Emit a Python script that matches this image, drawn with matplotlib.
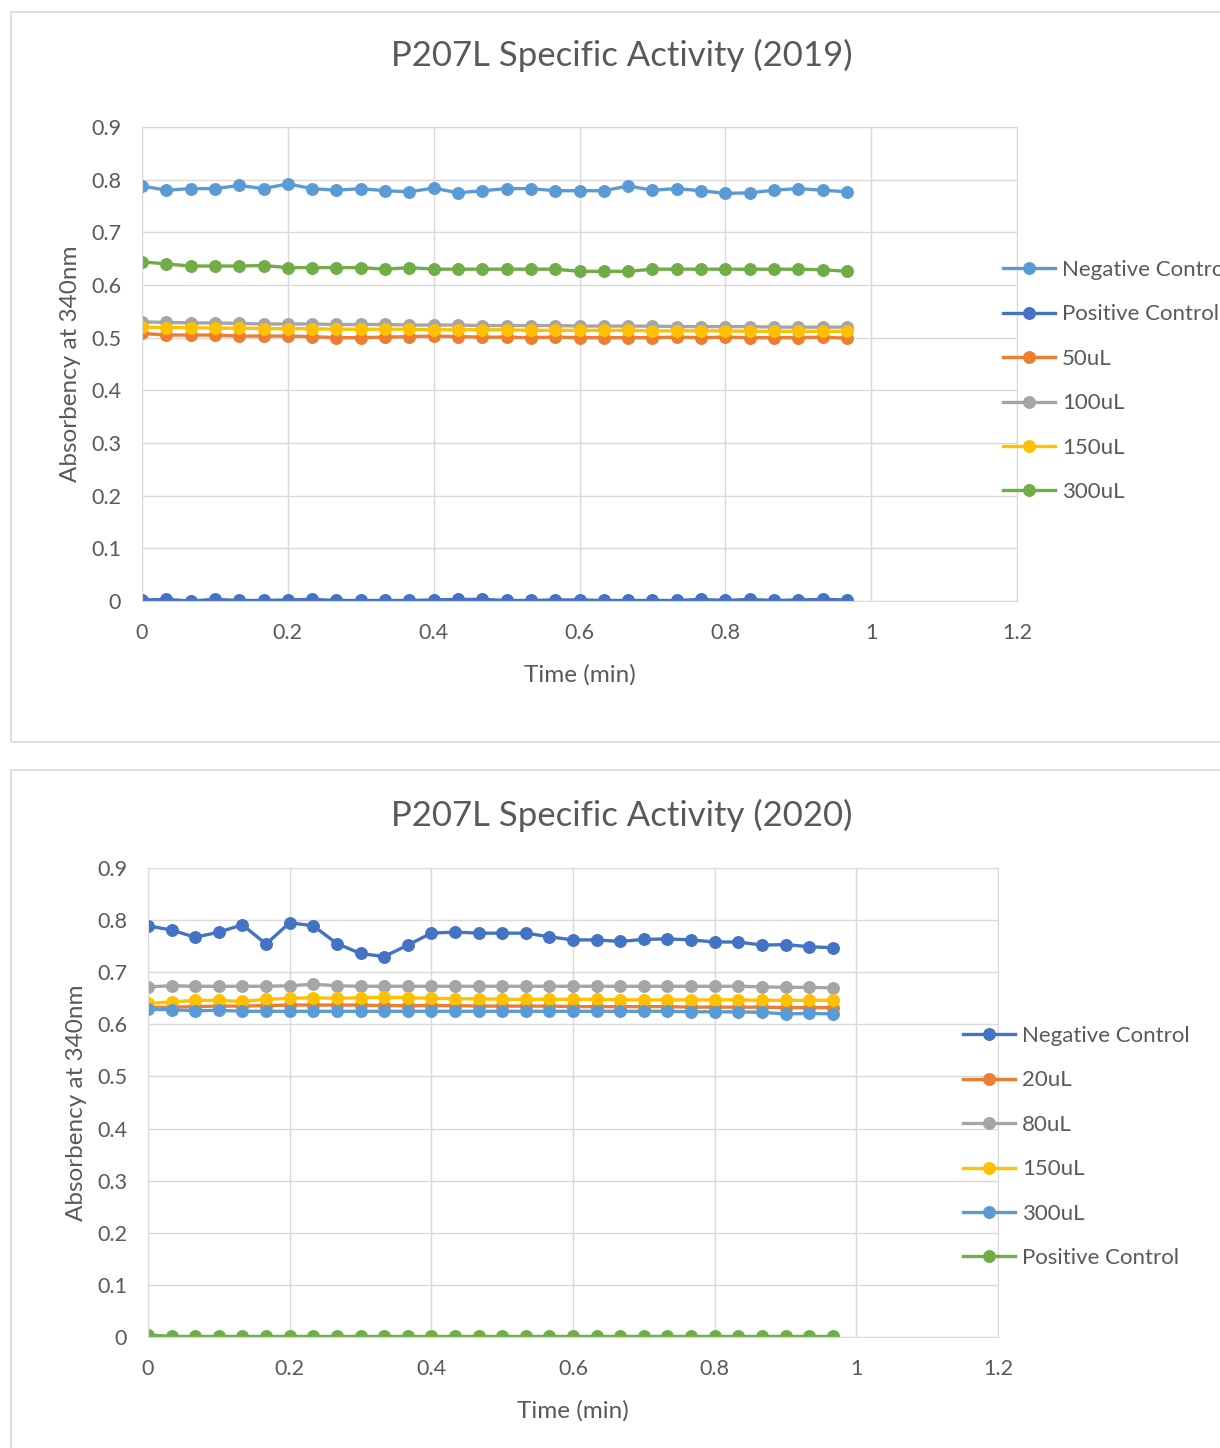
import numpy as np
import matplotlib
matplotlib.use("Agg")
import matplotlib.pyplot as plt
from matplotlib.patches import Rectangle

# time points: 30 readings, 2 s apart (in minutes)
time_min = np.arange(30) / 30

# --- 2019 run ---
neg_2019 = [0.788, 0.780, 0.783, 0.783, 0.789, 0.783, 0.792, 0.783, 0.780, 0.783,
            0.779, 0.777, 0.784, 0.775, 0.779, 0.783, 0.783, 0.779, 0.779, 0.779,
            0.788, 0.780, 0.783, 0.779, 0.774, 0.775, 0.780, 0.783, 0.780, 0.777]
pos_2019 = [0.002, 0.003, 0.000, 0.003, 0.001, 0.001, 0.002, 0.003, 0.001, 0.001,
            0.001, 0.001, 0.002, 0.003, 0.003, 0.001, 0.001, 0.002, 0.002, 0.001,
            0.001, 0.001, 0.001, 0.003, 0.001, 0.003, 0.001, 0.002, 0.003, 0.002]
ul50_2019 = [0.508, 0.505, 0.505, 0.505, 0.503, 0.503, 0.503, 0.502, 0.500, 0.500,
             0.501, 0.502, 0.503, 0.502, 0.501, 0.501, 0.500, 0.501, 0.500, 0.500,
             0.500, 0.500, 0.501, 0.500, 0.501, 0.500, 0.500, 0.500, 0.501, 0.499]
ul100_2019 = [0.530, 0.529, 0.528, 0.528, 0.527, 0.526, 0.526, 0.526, 0.525, 0.525,
              0.525, 0.524, 0.524, 0.524, 0.523, 0.523, 0.523, 0.523, 0.522, 0.522,
              0.522, 0.522, 0.521, 0.521, 0.521, 0.521, 0.520, 0.520, 0.520, 0.520]
ul150_2019 = [0.520, 0.519, 0.519, 0.518, 0.518, 0.517, 0.517, 0.517, 0.516, 0.516,
              0.516, 0.516, 0.515, 0.515, 0.515, 0.515, 0.514, 0.514, 0.514, 0.514,
              0.514, 0.513, 0.513, 0.513, 0.513, 0.512, 0.512, 0.512, 0.512, 0.512]
ul300_2019 = [0.644, 0.640, 0.636, 0.636, 0.636, 0.637, 0.633, 0.633, 0.633, 0.633,
              0.630, 0.633, 0.630, 0.630, 0.630, 0.630, 0.630, 0.630, 0.626, 0.626,
              0.626, 0.630, 0.630, 0.630, 0.630, 0.630, 0.630, 0.630, 0.629, 0.626]

# --- 2020 run ---
neg_2020 = [0.789, 0.781, 0.767, 0.777, 0.791, 0.754, 0.795, 0.789, 0.755, 0.736,
            0.730, 0.752, 0.775, 0.777, 0.775, 0.775, 0.775, 0.768, 0.762, 0.762,
            0.759, 0.763, 0.764, 0.762, 0.758, 0.758, 0.752, 0.753, 0.749, 0.747]
ul20_2020 = [0.632, 0.633, 0.634, 0.635, 0.635, 0.636, 0.637, 0.637, 0.637, 0.637,
             0.636, 0.636, 0.636, 0.636, 0.635, 0.635, 0.635, 0.635, 0.634, 0.634,
             0.634, 0.634, 0.634, 0.633, 0.633, 0.633, 0.633, 0.632, 0.632, 0.632]
ul80_2020 = [0.672, 0.674, 0.673, 0.673, 0.673, 0.673, 0.674, 0.677, 0.674, 0.673,
             0.673, 0.673, 0.673, 0.673, 0.673, 0.673, 0.673, 0.673, 0.673, 0.673,
             0.673, 0.673, 0.673, 0.673, 0.673, 0.673, 0.672, 0.671, 0.671, 0.670]
ul150_2020 = [0.640, 0.643, 0.646, 0.646, 0.644, 0.648, 0.650, 0.651, 0.650, 0.651,
              0.652, 0.651, 0.650, 0.649, 0.649, 0.648, 0.648, 0.648, 0.648, 0.648,
              0.647, 0.647, 0.647, 0.647, 0.647, 0.647, 0.646, 0.646, 0.646, 0.646]
ul300_2020 = [0.629, 0.628, 0.626, 0.627, 0.625, 0.625, 0.625, 0.625, 0.625, 0.625,
              0.625, 0.625, 0.625, 0.625, 0.625, 0.625, 0.625, 0.625, 0.625, 0.625,
              0.625, 0.625, 0.625, 0.624, 0.624, 0.624, 0.623, 0.620, 0.621, 0.620]
pos_2020 = [0.004, 0.001, 0.001, 0.001, 0.001, 0.001, 0.001, 0.001, 0.001, 0.001,
            0.001, 0.001, 0.001, 0.001, 0.001, 0.001, 0.001, 0.001, 0.001, 0.001,
            0.001, 0.001, 0.001, 0.001, 0.001, 0.001, 0.001, 0.001, 0.001, 0.001]

labels_2019 = ["Negative Control", "Positive Control", "50uL", "100uL", "150uL", "300uL"]
labels_2020 = ["Negative Control", "20uL", "80uL", "150uL", "300uL", "Positive Control"]

# office palette
BLUE = "#4472C4"
ORANGE = "#ED7D31"
GRAY = "#A5A5A5"
GOLD = "#FFC000"
LBLUE = "#5B9BD5"
GREEN = "#70AD47"
TXT = "#595959"
GRID = "#D9D9D9"

plt.rcParams['font.family'] = ['Lato', 'DejaVu Sans']

W, H = 1220, 1448
fig = plt.figure(figsize=(W / 100, H / 100), dpi=100)

# chart card outlines
fig.patches.append(Rectangle((11 / W, 1 - 742 / H), 1.2, (742 - 12) / H,
                             transform=fig.transFigure, fill=False, ec=GRID, lw=1.2))
fig.patches.append(Rectangle((11 / W, -0.2), 1.2, 0.2 + (H - 770) / H,
                             transform=fig.transFigure, fill=False, ec=GRID, lw=1.2))


def draw_chart(ax, series, labels, colors, title, title_y, legend_anchor):
    for y, lab, c in zip(series, labels, colors):
        ax.plot(time_min, y, color=c, lw=2.4, marker='o', ms=8.3, label=lab)
    ax.set_xlim(0, 1.2)
    ax.set_ylim(0, 0.9)
    ax.set_xticks(np.arange(0, 1.21, 0.2))
    ax.set_xticklabels(["0", "0.2", "0.4", "0.6", "0.8", "1", "1.2"])
    ax.set_yticks(np.arange(0, 0.91, 0.1))
    ax.set_yticklabels(["0"] + ["%.1f" % v for v in np.arange(0.1, 0.91, 0.1)])
    ax.grid(True, color=GRID, lw=1)
    ax.set_axisbelow(True)
    for s in ax.spines.values():
        s.set_color(GRID)
    ax.tick_params(length=0, labelsize=15.5, labelcolor=TXT)
    ax.tick_params(axis='y', pad=15)
    ax.tick_params(axis='x', pad=16)
    ax.set_xlabel("Time (min)", fontsize=17.5, color=TXT, labelpad=15)
    ax.set_ylabel("Absorbency at 340nm", fontsize=17.5, color=TXT, labelpad=7)
    fig.text(622 / W, 1 - title_y / H, title, fontsize=25, color=TXT,
             ha='center', va='center')
    ax.legend(loc='upper left', bbox_to_anchor=legend_anchor, bbox_transform=fig.transFigure,
              frameon=False, fontsize=16, labelcolor=TXT, handlelength=2.35,
              handletextpad=0.3, labelspacing=1.1, borderaxespad=0, borderpad=0)


ax1 = fig.add_axes([142 / W, 1 - 601 / H, (1017 - 142) / W, (601 - 127) / H])
draw_chart(ax1, [neg_2019, pos_2019, ul50_2019, ul100_2019, ul150_2019, ul300_2019],
           labels_2019, [LBLUE, BLUE, ORANGE, GRAY, GOLD, GREEN],
           "P207L Specific Activity (2019)", 55, (1003 / W, 1 - 260 / H))

ax2 = fig.add_axes([148 / W, 1 - 1337 / H, (998 - 148) / W, (1337 - 868) / H])
draw_chart(ax2, [neg_2020, ul20_2020, ul80_2020, ul150_2020, ul300_2020, pos_2020],
           labels_2020, [BLUE, ORANGE, GRAY, GOLD, LBLUE, GREEN],
           "P207L Specific Activity (2020)", 815, (963 / W, 1 - 1026 / H))

fig.savefig("out.png", dpi=100)
